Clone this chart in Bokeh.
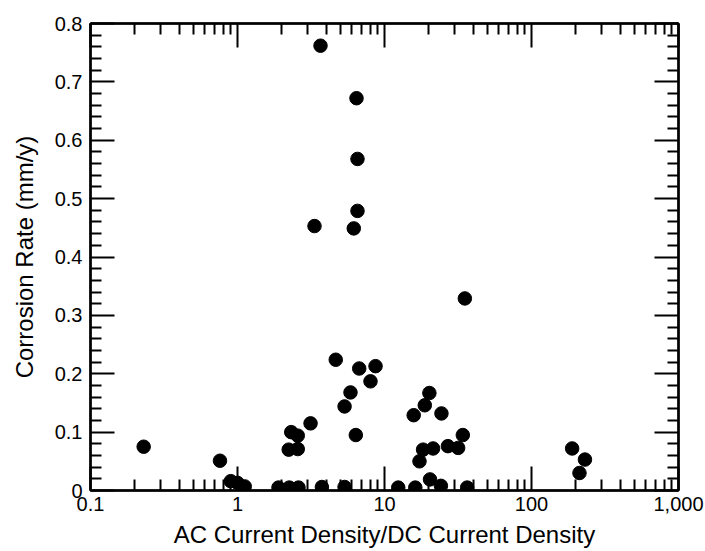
from bokeh.plotting import figure
from bokeh.models import LogAxis, LinearAxis, FixedTicker, Range1d, ColumnDataSource, CustomJSTickFormatter, LogScale
from bokeh.embed import file_html
from bokeh.resources import INLINE

# AC current density / DC current density ratio
ratio = [0.23, 0.76, 0.90, 1.0, 1.12, 1.90, 2.25, 2.6, 3.75, 5.35,
         2.23, 2.57, 2.32, 2.57, 3.14, 3.34, 3.67, 4.66, 5.35, 5.87,
         6.18, 6.38, 6.45, 6.55, 6.55, 6.73, 8.03, 8.69, 12.4, 15.8,
         16.2, 17.3, 18.3, 18.8, 20.2, 20.4, 21.4, 24.4, 24.2, 27.0,
         31.7, 34.1, 35.2, 36.5, 189, 212, 231]
# Corrosion rate (mm/y)
rate = [0.075, 0.051, 0.016, 0.013, 0.007, 0.005, 0.005, 0.005, 0.006, 0.006,
        0.070, 0.071, 0.100, 0.094, 0.115, 0.453, 0.762, 0.224, 0.144, 0.168,
        0.449, 0.095, 0.672, 0.568, 0.479, 0.209, 0.187, 0.213, 0.005, 0.129,
        0.005, 0.050, 0.070, 0.146, 0.167, 0.019, 0.072, 0.132, 0.008, 0.076,
        0.073, 0.095, 0.329, 0.005, 0.072, 0.030, 0.053]

x_ticks = [0.1, 1, 10, 100, 1000]
x_tick_labels = ["0.1", "1", "10", "100", "1,000"]
x_minor = [k * 10.0 ** e for e in (-1, 0, 1, 2) for k in range(2, 10)]
y_ticks = [0, 0.1, 0.2, 0.3, 0.4, 0.5, 0.6, 0.7, 0.8]
y_tick_labels = ["0", "0.1", "0.2", "0.3", "0.4", "0.5", "0.6", "0.7", "0.8"]
y_minor = [round(i * 0.02, 2) for i in range(41) if i % 5 != 0]

FONT = "Liberation Sans"

p = figure(width=705, height=551, x_axis_type=None, y_axis_type=None,
           x_range=Range1d(0.1, 1000), y_range=Range1d(0, 0.8),
           output_backend="svg", toolbar_location=None,
           min_border_left=90, min_border_right=27, min_border_top=23, min_border_bottom=61)
p.x_scale = LogScale()
p.xgrid.visible = False
p.ygrid.visible = False
p.outline_line_color = "black"
p.outline_line_width = 2
p.background_fill_color = "white"
p.border_fill_color = "white"

src = ColumnDataSource(dict(x=ratio, y=rate))
p.scatter("x", "y", source=src, size=13.5, color="black")

xt = FixedTicker(ticks=x_ticks, minor_ticks=x_minor)
yt = FixedTicker(ticks=y_ticks, minor_ticks=y_minor)
blank = CustomJSTickFormatter(code="return ''")

def style(ax):
    ax.axis_line_color = "black"
    ax.axis_line_width = 2.5
    ax.major_tick_in = 24
    ax.major_tick_out = 0
    ax.minor_tick_in = 11
    ax.minor_tick_out = 0
    ax.major_tick_line_color = "black"
    ax.major_tick_line_width = 2
    ax.minor_tick_line_color = "black"
    ax.minor_tick_line_width = 2
    ax.major_label_text_font = FONT
    ax.major_label_text_font_size = "20px"
    ax.major_label_text_color = "black"
    ax.axis_label_text_font = FONT
    ax.axis_label_text_font_size = "24px"
    ax.axis_label_text_font_style = "normal"
    ax.axis_label_text_color = "black"

xb = LogAxis(ticker=xt, axis_label="AC Current Density/DC Current Density")
xb.major_label_overrides = dict(zip(x_ticks, x_tick_labels))
style(xb)
xb.major_label_standoff = 6
xb.axis_label_standoff = 7
p.add_layout(xb, "below")

yl = LinearAxis(ticker=yt, axis_label="Corrosion Rate (mm/y)")
yl.major_label_overrides = dict(zip(y_ticks, y_tick_labels))
style(yl)
yl.major_label_standoff = 8
yl.axis_label_standoff = 14
p.add_layout(yl, "left")

xtop = LogAxis(ticker=xt, formatter=blank)
style(xtop)
xtop.major_label_text_font_size = "1px"
p.add_layout(xtop, "above")

yr = LinearAxis(ticker=yt, formatter=blank)
style(yr)
yr.major_label_text_font_size = "1px"
p.add_layout(yr, "right")

open("out.html", "w").write(file_html(p, INLINE))
